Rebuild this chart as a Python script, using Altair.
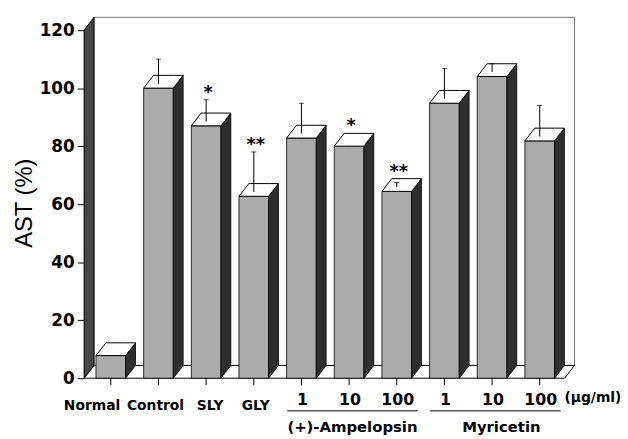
import altair as alt
import pandas as pd

# ---- data ----
labels = ["Normal", "Control", "SLY", "GLY", "1", "10", "100", "1", "10", "100"]
values = [7.8, 100, 87, 62.7, 82.8, 80, 64.4, 94.8, 104, 81.8]
sds = [0, 10, 9, 15.3, 12, 0.5, 3.1, 12, 4.4, 12.2]
stars = ["", "", "*", "**", "", "*", "**", "", "", ""]
groups = ["(+)-Ampelopsin", "Myricetin"]
group_first = [4, 7]
group_last = [6, 9]
unit_label = "(µg/ml)"
y_ticks = [0, 20, 40, 60, 80, 100, 120]
y_title = "AST (%)"

# ---- style / geometry constants ----
HALF = 0.311      # half bar width (category units)
DX = 0.207        # 3-D depth, x
DY = 4.4          # 3-D depth, y (value units)
X_LEFT, X_RIGHT = -0.56, 9.73
Y_TOP = 120
FRONT = "#ababab"
SIDE = "#2e2e2e"
WALL = "#464646"
FONT = "DejaVu Sans"

xs = alt.Scale(domain=[X_LEFT, X_RIGHT], nice=False, zero=False)
ys = alt.Scale(domain=[0, Y_TOP + DY], nice=False, zero=False)
YAX = alt.Axis(values=y_ticks, tickSize=7, labelFont=FONT, labelFontWeight="bold",
               labelFontSize=17, labelColor="black", tickColor="black",
               labelPadding=3, domain=False, grid=False)


def Y(field):
    return alt.Y(field, scale=ys, title=None, axis=YAX)


def X(field):
    return alt.X(field, scale=xs, title=None, axis=None)


n = len(labels)
bars = pd.DataFrame({
    "i": list(range(n)), "label": labels, "v": values, "sd": sds, "star": stars,
})
bars["x0"] = bars["i"] - HALF
bars["x1"] = bars["i"] + HALF
bars["zero"] = 0.0
bars["elo"] = bars["v"] + 1.5
bars["ehi"] = bars["v"] + bars["sd"]
bars["sy"] = [max(v + s, v + DY) for v, s in zip(values, sds)]

side_rows, top_rows = [], []
for i, v in enumerate(values):
    x0, x1 = i - HALF, i + HALF
    side_rows += [(i, x1, 0.0, v), (i, x1 + DX, DY, v + DY)]
    top_rows += [(i, x0, v, v), (i, x0 + DX, v, v + DY),
                 (i, x1, v, v + DY), (i, x1 + DX, v + DY, v + DY)]
side = pd.DataFrame(side_rows, columns=["b", "x", "lo", "hi"])
top = pd.DataFrame(top_rows, columns=["b", "x", "lo", "hi"])

fx1 = X_RIGHT - DX
floor = pd.DataFrame([(0, X_LEFT, 0.0, 0.0), (0, X_LEFT + DX, 0.0, DY),
                      (0, fx1, 0.0, DY), (0, X_RIGHT, DY, DY)],
                     columns=["b", "x", "lo", "hi"])
lwall = pd.DataFrame([(0, X_LEFT, 0.0, Y_TOP), (0, X_LEFT + DX, DY, Y_TOP + DY)],
                     columns=["b", "x", "lo", "hi"])
bwall = pd.DataFrame({"x": [X_LEFT + DX], "x2": [X_RIGHT], "y": [DY], "y2": [Y_TOP + DY]})


def area_layer(df, **mk):
    return alt.Chart(df).mark_area(**mk).encode(
        x=X("x:Q"), y=Y("hi:Q"), y2="lo:Q", detail="b:N")


back = alt.Chart(bwall).mark_rect(fill="white", stroke="#777777", strokeWidth=1).encode(
    x=X("x:Q"), x2="x2:Q", y=Y("y:Q"), y2="y2:Q")
left = area_layer(lwall, fill=WALL, stroke="black", strokeWidth=1)
flr = area_layer(floor, fill="white", stroke="black", strokeWidth=1)

front = alt.Chart(bars).mark_rect(fill=FRONT, stroke="black", strokeWidth=0.8).encode(
    x=X("x0:Q"), x2="x1:Q", y=Y("v:Q"), y2="zero:Q")
sides = area_layer(side, fill=SIDE, stroke="black", strokeWidth=0.8)
tops = area_layer(top, fill="white", stroke="black", strokeWidth=1)

err = bars[bars["sd"] > 1.5]
err_line = alt.Chart(err).mark_rule(color="black", strokeWidth=1).encode(
    x=X("i:Q"), y=Y("elo:Q"), y2="ehi:Q")
err_cap = alt.Chart(err).mark_tick(color="black", orient="horizontal", size=5, thickness=1).encode(
    x=X("i:Q"), y=Y("ehi:Q"))

star_txt = alt.Chart(bars[bars["star"] != ""]).mark_text(
    font=FONT, fontWeight="bold", fontSize=18, baseline="middle", dy=-7, dx=2).encode(
    x=X("i:Q"), y=Y("sy:Q"), text="star:N")

xticks = alt.Chart(bars).mark_rule(color="black", strokeWidth=1).encode(
    x=X("i:Q"), y=alt.value(365), y2=alt.value(372))

name_dx = {0: -19, 1: -3, 2: 4, 3: 2}
name_layers = []
for idx, ddx in name_dx.items():
    name_layers.append(
        alt.Chart(bars[bars["i"] == idx]).mark_text(
            font=FONT, fontWeight="bold", fontSize=14, baseline="middle", dx=ddx).encode(
            x=X("i:Q"), y=alt.value(393), text="label:N"))
dose = alt.Chart(bars[bars["i"] >= 4]).mark_text(
    font=FONT, fontWeight="bold", fontSize=16, baseline="middle", dx=1).encode(
    x=X("i:Q"), y=alt.value(387), text="label:N")
unit = alt.Chart(pd.DataFrame({"i": [n - 1], "t": [unit_label]})).mark_text(
    font=FONT, fontWeight="bold", fontSize=14, baseline="middle", align="left", dx=25).encode(
    x=X("i:Q"), y=alt.value(385), text="t:N")

gdf = pd.DataFrame({"g": groups, "a": [f - 0.3 for f in group_first],
                    "b2": [l + 0.44 for l in group_last]})
gdf["c"] = (gdf["a"] + gdf["b2"]) / 2
gline = alt.Chart(gdf).mark_rule(color="black", strokeWidth=1).encode(
    x=X("a:Q"), x2="b2:Q", y=alt.value(398))
group_dx = [0, 6]
gtexts = [
    alt.Chart(gdf.iloc[[k]]).mark_text(
        font=FONT, fontWeight="bold", fontSize=15, baseline="middle", dx=group_dx[k]).encode(
        x=X("c:Q"), y=alt.value(414), text="g:N")
    for k in range(len(groups))
]

ttl = alt.Chart(pd.DataFrame({"t": [y_title]})).mark_text(
    font="Liberation Sans", fontSize=24, angle=270, baseline="middle").encode(
    x=alt.value(-60), y=alt.value(188), text="t:N")

chart = alt.layer(
    back, left, flr, front, sides, tops, err_line, err_cap, star_txt, xticks,
    *name_layers, dose, unit, gline, *gtexts, ttl
).properties(
    width=496, height=365, autosize="none",
    padding={"left": 77, "top": 7, "right": 46, "bottom": 56},
).configure_view(stroke=None)

chart.save("out.html", embed_options={"renderer": "svg", "actions": False})
